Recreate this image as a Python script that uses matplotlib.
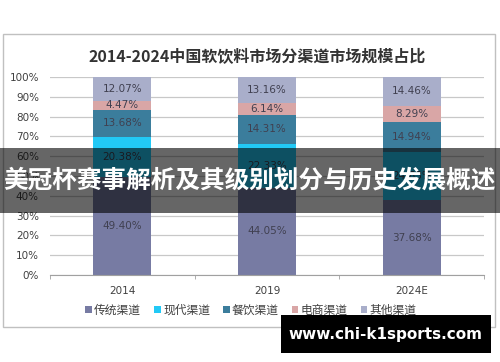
import matplotlib
matplotlib.use("Agg")
import matplotlib.pyplot as plt
from matplotlib.patches import Rectangle
import numpy as np

plt.rcParams['font.family'] = ['Noto Sans CJK SC', 'DejaVu Sans']

categories = ["2014", "2019", "2024E"]
series_names = ["传统渠道", "现代渠道", "餐饮渠道", "电商渠道", "其他渠道"]
traditional = [49.40, 44.05, 37.68]
modern = [20.38, 22.33, 24.63]
catering = [13.68, 14.31, 14.94]
ecommerce = [4.47, 6.14, 8.29]
other = [12.07, 13.16, 14.46]
yticks = [0, 10, 20, 30, 40, 50, 60, 70, 80, 90, 100]

title = "2014-2024中国软饮料市场分渠道市场规模占比"
banner = "美冠杯赛事解析及其级别划分与历史发展概述"
watermark = "www.chi-k1sports.com"

colors = ["#777BA3", "#22C9F6", "#3B7D9C", "#D9A6A6", "#A9AECA"]
series = [traditional, modern, catering, ecommerce, other]

fig = plt.figure(figsize=(5, 3.62), dpi=100)
fig.patch.set_facecolor("white")

# outer frame
fig.patches.append(Rectangle((3/500, 1-327/362), 492/500, 293/362, transform=fig.transFigure,
                             fill=False, edgecolor="#C0C0C0", linewidth=1.0, zorder=0))

ax = fig.add_axes([50/500, 1-275/362, 434/500, 198/362])
x = np.arange(len(categories))
bottom = np.zeros(len(categories))
for name, vals, c in zip(series_names, series, colors):
    vals = np.array(vals)
    ax.bar(x, vals, 0.4, bottom=bottom, color=c, label=name, zorder=2)
    for xi, b, v in zip(x, bottom, vals):
        ax.text(xi, b + v/2, f"{v:.2f}%", ha="center", va="center", fontsize=7.5,
                color="#404050", family=["DejaVu Sans"], zorder=3)
    bottom += vals

ax.set_xlim(-0.5, 2.5)
ax.set_ylim(0, 100)
ax.set_yticks(yticks)
ax.set_yticklabels([f"{t}%" for t in yticks], fontsize=7.5, color="#404040", family=["DejaVu Sans"])
ax.set_xticks(x)
ax.set_xticklabels(categories, fontsize=7.5, color="#404040", family=["DejaVu Sans"])
ax.tick_params(axis="y", length=0, pad=8)
ax.tick_params(axis="x", length=0, pad=8)
ax.set_xticks([-0.5, 0.5, 1.5, 2.5], minor=True)
ax.tick_params(axis="x", which="minor", length=3, color="#A0A0A0")
ax.grid(axis="y", color="#C8C8C8", linewidth=0.9, zorder=0)
for s in ["top", "right", "left"]:
    ax.spines[s].set_visible(False)
ax.spines["bottom"].set_color("#A0A0A0")

fig.text(257/500, 1-57/362, title, ha="center", va="center", fontsize=11.5,
         fontweight="bold", color="#333333")

leg = fig.legend(loc="center", bbox_to_anchor=(251/500, 1-310/362), ncol=5, frameon=False,
                 fontsize=8.5, handlelength=0.55, handleheight=0.55, handletextpad=0.2,
                 columnspacing=1.1, labelcolor="#404040")

# banner overlay
fig.patches.append(Rectangle((0, 1-213/362), 1, 65/362, transform=fig.transFigure,
                             facecolor="black", alpha=0.6, edgecolor="none", zorder=10))
fig.text(250/500, 1-181/362, banner, ha="center", va="center", fontsize=17.7,
         fontweight="bold", color="white", zorder=11)

# watermark
fig.patches.append(Rectangle((281/500, 1-353/362), 210/500, 38/362, transform=fig.transFigure,
                             facecolor="black", edgecolor="none", zorder=10))
fig.text(385/500, 1-335/362, watermark, ha="center", va="center", fontsize=11,
         fontweight="bold", color="white", family=["DejaVu Sans"], zorder=11)

fig.savefig("out.png", dpi=100)
